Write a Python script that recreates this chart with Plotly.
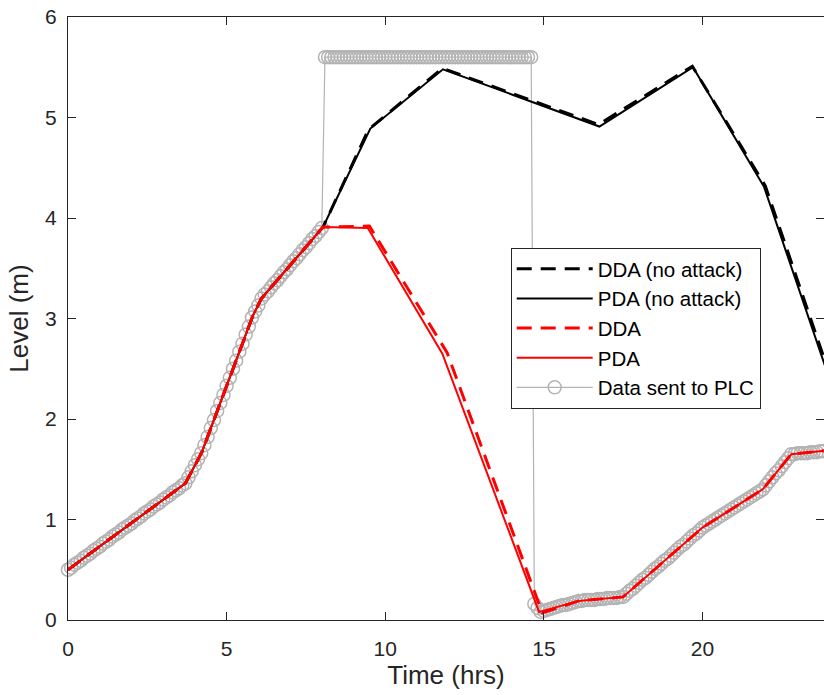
import plotly.graph_objects as go

# ---------------- data ----------------
# Attack scenario, pressure-driven analysis (PDA) - tank level vertices
pda_time = [0.0, 3.7, 4.22, 5.83, 6.1, 8.04, 9.45, 11.8, 14.85, 16.1, 17.5, 20.0, 21.9, 22.8, 24.0]
pda_level = [0.50, 1.36, 1.67, 3.03, 3.20, 3.91, 3.90, 2.65, 0.08, 0.19, 0.23, 0.92, 1.30, 1.65, 1.69]

# Attack scenario, demand-driven analysis (DDA)
dda_time = [0.0, 3.7, 4.22, 5.83, 6.1, 8.04, 9.5, 11.95, 14.95, 16.1, 17.5, 20.0, 21.9, 22.8, 24.0]
dda_level = [0.50, 1.36, 1.67, 3.03, 3.20, 3.91, 3.92, 2.66, 0.07, 0.19, 0.23, 0.92, 1.30, 1.65, 1.69]

# No-attack scenario, PDA
pda_na_time = [0.0, 3.7, 4.22, 5.83, 6.1, 8.04, 9.53, 11.82, 16.75, 19.70, 21.94, 24.0]
pda_na_level = [0.50, 1.36, 1.67, 3.03, 3.20, 3.91, 4.89, 5.48, 4.91, 5.50, 4.31, 2.40]

# No-attack scenario, DDA
dda_na_time = [0.0, 3.7, 4.22, 5.83, 6.1, 8.04, 9.47, 11.8, 16.72, 19.68, 21.98, 24.0]
dda_na_level = [0.50, 1.36, 1.67, 3.03, 3.20, 3.91, 4.88, 5.49, 4.93, 5.51, 4.32, 2.45]

# Data sent to the PLC, one reading every 0.1 h (rows = hours)
plc_level = [
    0.50, 0.52, 0.55, 0.57, 0.59, 0.62, 0.64, 0.66, 0.69, 0.71,
    0.73, 0.76, 0.78, 0.80, 0.83, 0.85, 0.87, 0.90, 0.92, 0.94,
    0.96, 0.99, 1.01, 1.03, 1.06, 1.08, 1.10, 1.13, 1.15, 1.17,
    1.20, 1.22, 1.24, 1.27, 1.29, 1.31, 1.34, 1.36, 1.42, 1.48,
    1.54, 1.60, 1.66, 1.74, 1.82, 1.91, 1.99, 2.08, 2.16, 2.24,
    2.33, 2.41, 2.50, 2.58, 2.67, 2.75, 2.84, 2.92, 3.01, 3.07,
    3.13, 3.20, 3.24, 3.27, 3.31, 3.35, 3.38, 3.42, 3.46, 3.49,
    3.53, 3.57, 3.60, 3.64, 3.68, 3.71, 3.75, 3.79, 3.82, 3.86,
    3.90, 5.60, 5.60, 5.60, 5.60, 5.60, 5.60, 5.60, 5.60, 5.60,
    5.60, 5.60, 5.60, 5.60, 5.60, 5.60, 5.60, 5.60, 5.60, 5.60,
    5.60, 5.60, 5.60, 5.60, 5.60, 5.60, 5.60, 5.60, 5.60, 5.60,
    5.60, 5.60, 5.60, 5.60, 5.60, 5.60, 5.60, 5.60, 5.60, 5.60,
    5.60, 5.60, 5.60, 5.60, 5.60, 5.60, 5.60, 5.60, 5.60, 5.60,
    5.60, 5.60, 5.60, 5.60, 5.60, 5.60, 5.60, 5.60, 5.60, 5.60,
    5.60, 5.60, 5.60, 5.60, 5.60, 5.60, 5.60, 0.16, 0.12, 0.08,
    0.09, 0.10, 0.11, 0.12, 0.13, 0.14, 0.15, 0.15, 0.16, 0.17,
    0.18, 0.19, 0.19, 0.20, 0.20, 0.20, 0.20, 0.21, 0.21, 0.21,
    0.22, 0.22, 0.22, 0.22, 0.23, 0.23, 0.26, 0.29, 0.31, 0.34,
    0.37, 0.40, 0.42, 0.45, 0.48, 0.51, 0.53, 0.56, 0.59, 0.61,
    0.64, 0.67, 0.70, 0.73, 0.75, 0.78, 0.81, 0.84, 0.86, 0.89,
    0.92, 0.94, 0.96, 0.98, 1.00, 1.02, 1.04, 1.06, 1.08, 1.10,
    1.12, 1.14, 1.16, 1.18, 1.20, 1.22, 1.24, 1.26, 1.28, 1.30,
    1.34, 1.38, 1.42, 1.46, 1.49, 1.53, 1.57, 1.61, 1.65, 1.65,
    1.66, 1.66, 1.66, 1.66, 1.67, 1.67, 1.67, 1.68, 1.68, 1.68,
    1.69,
]
plc_time = [round(i * 0.1, 1) for i in range(len(plc_level))]

x_ticks = [0, 5, 10, 15, 20]
y_ticks = [0, 1, 2, 3, 4, 5, 6]

# ---------------- figure ----------------
AX = "#262626"
GRAY = "#b3b3b3"
DASH = "15px,9px"

fig = go.Figure()

fig.add_trace(go.Scatter(
    x=plc_time, y=plc_level, mode="lines+markers", name="Data sent to PLC",
    line=dict(color=GRAY, width=1.2),
    marker=dict(symbol="circle-open", size=13, color=GRAY, line=dict(width=1.5, color=GRAY)),
    cliponaxis=False, legendrank=5,
))
fig.add_trace(go.Scatter(
    x=dda_na_time, y=dda_na_level, mode="lines", name="DDA (no attack)",
    line=dict(color="black", width=3, dash=DASH), legendrank=1,
))
fig.add_trace(go.Scatter(
    x=pda_na_time, y=pda_na_level, mode="lines", name="PDA (no attack)",
    line=dict(color="black", width=2), legendrank=2,
))
fig.add_trace(go.Scatter(
    x=dda_time, y=dda_level, mode="lines", name="DDA",
    line=dict(color="#ff0000", width=3, dash=DASH), legendrank=3,
))
fig.add_trace(go.Scatter(
    x=pda_time, y=pda_level, mode="lines", name="PDA",
    line=dict(color="#ff0000", width=2), legendrank=4,
))
# helper (invisible) trace so the right-hand tick axis is drawn
fig.add_trace(go.Scatter(x=[None], y=[None], yaxis="y2", showlegend=False, hoverinfo="skip"))

fig.update_layout(
    width=824, height=695,
    margin=dict(l=68, r=0, t=17, b=75),
    paper_bgcolor="white", plot_bgcolor="white",
    font=dict(family="Liberation Sans, Arial, sans-serif", size=21, color=AX),
    showlegend=True,
    legend=dict(
        x=0.5856, y=0.617, xanchor="left", yanchor="top",
        bgcolor="white", bordercolor=AX, borderwidth=1,
        font=dict(size=20.5, color="black"), itemwidth=76,
        tracegroupgap=0,
    ),
    xaxis=dict(
        range=[0, 23.83], tickvals=x_ticks, ticks="inside", ticklen=8, tickwidth=1,
        tickcolor=AX, showline=True, linecolor=AX, linewidth=1, mirror="ticks",
        showgrid=False, zeroline=False, ticklabelstandoff=10,
        tickfont=dict(size=21, color=AX),
        title=dict(text="Time (hrs)", font=dict(size=26, color=AX), standoff=1),
        automargin=False,
    ),
    yaxis=dict(
        range=[0, 6], tickvals=y_ticks, ticks="inside", ticklen=8, tickwidth=1,
        tickcolor=AX, showline=True, linecolor=AX, linewidth=1,
        showgrid=False, zeroline=False, ticklabelstandoff=6,
        tickfont=dict(size=21, color=AX),
        title=dict(text="Level (m)", font=dict(size=26, color=AX), standoff=9),
        automargin=False,
    ),
    yaxis2=dict(
        range=[0, 6], tickvals=y_ticks, overlaying="y", side="right",
        ticks="inside", ticklen=8, tickwidth=1, tickcolor=AX,
        showticklabels=False, showline=False, showgrid=False, zeroline=False,
    ),
)

fig.write_html("out.html")
